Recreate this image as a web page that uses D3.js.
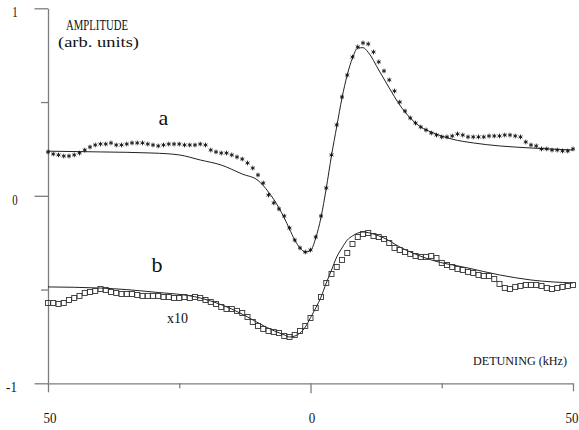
<!DOCTYPE html>
<html><head><meta charset="utf-8">
<script src="https://cdn.jsdelivr.net/npm/d3@7"></script>
<style>body{margin:0;background:#fff} svg{display:block}</style>
</head><body><svg id="c" width="579" height="430"></svg>
<script>
// ---- data ----
const detuning = [-50,-49,-48,-47,-46,-45,-44,-43,-42,-41,-40,-39,-38,-37,-36,-35,-34,-33,-32,-31,
  -30,-29,-28,-27,-26,-25,-24,-23,-22,-21,-20,-19,-18,-17,-16,-15,-14,-13,-12,-11,
  -10,-9,-8,-7,-6,-5,-4,-3,-2,-1,0,1,2,3,4,5,6,7,8,9,
  10,11,12,13,14,15,16,17,18,19,20,21,22,23,24,25,26,27,28,29,
  30,31,32,33,34,35,36,37,38,39,40,41,42,43,44,45,46,47,48,49,50];
const seriesA = [0.234,0.223,0.218,0.212,0.212,0.218,0.228,0.244,0.260,0.271,
  0.276,0.276,0.282,0.271,0.271,0.276,0.282,0.282,0.282,0.276,
  0.271,0.266,0.271,0.276,0.276,0.276,0.271,0.271,0.271,0.276,
  0.271,0.244,0.234,0.228,0.228,0.218,0.207,0.196,0.175,0.148,
  0.111,0.068,0.004,-0.038,-0.070,-0.108,-0.172,-0.236,-0.278,-0.300,
  -0.289,-0.220,-0.108,0.042,0.218,0.378,0.527,0.644,0.740,0.794,
  0.815,0.810,0.767,0.714,0.666,0.618,0.559,0.500,0.452,0.415,
  0.388,0.367,0.351,0.335,0.324,0.314,0.314,0.319,0.330,0.324,
  0.314,0.314,0.314,0.314,0.319,0.319,0.319,0.324,0.324,0.319,
  0.314,0.287,0.271,0.266,0.250,0.250,0.244,0.244,0.239,0.239,0.250];
const seriesB = [-0.572,-0.572,-0.577,-0.572,-0.556,-0.545,-0.534,-0.518,-0.513,-0.508,
  -0.497,-0.502,-0.513,-0.518,-0.524,-0.524,-0.524,-0.529,-0.534,-0.534,
  -0.534,-0.534,-0.540,-0.540,-0.545,-0.545,-0.540,-0.545,-0.540,-0.545,
  -0.556,-0.566,-0.577,-0.593,-0.604,-0.604,-0.614,-0.625,-0.646,-0.673,
  -0.694,-0.710,-0.721,-0.726,-0.732,-0.748,-0.753,-0.742,-0.721,-0.694,
  -0.652,-0.598,-0.540,-0.465,-0.417,-0.380,-0.342,-0.305,-0.257,-0.220,
  -0.204,-0.198,-0.214,-0.220,-0.230,-0.252,-0.278,-0.289,-0.300,-0.310,
  -0.321,-0.326,-0.326,-0.321,-0.332,-0.358,-0.369,-0.380,-0.390,-0.396,
  -0.406,-0.412,-0.422,-0.428,-0.428,-0.444,-0.470,-0.492,-0.497,-0.486,
  -0.481,-0.476,-0.476,-0.476,-0.481,-0.492,-0.497,-0.492,-0.486,-0.481,-0.476];
const fitAX = [-50,-40,-30,-25,-21,-17,-13,-10,-8,-6,-5,-4,-3,-2,-1,0,1,2,3,4,5,6,7,8,9,10,11,13,15,17,19,21,23,27,31,36,42,50];
const fitA  = [0.238,0.234,0.228,0.218,0.191,0.164,0.116,0.082,0.020,-0.065,-0.118,-0.177,-0.236,-0.278,-0.300,-0.292,-0.225,-0.115,0.040,0.215,0.370,0.522,0.645,0.735,0.788,0.790,0.765,0.671,0.575,0.484,0.415,0.367,0.340,0.302,0.282,0.266,0.255,0.244];
const fitBX = [-50,-40,-30,-21,-15,-12,-8.5,-5,-4,-3,-2,-1,0,1,2,3,4,5,6,7,8,10,12,14,17,23,30,36,42,50];
const fitB  = [-0.486,-0.492,-0.513,-0.545,-0.604,-0.646,-0.700,-0.742,-0.753,-0.748,-0.732,-0.700,-0.650,-0.598,-0.540,-0.465,-0.396,-0.326,-0.278,-0.236,-0.214,-0.193,-0.204,-0.225,-0.273,-0.342,-0.385,-0.422,-0.449,-0.465];
const xTickValues = [-50,-25,0,25,50];
const xTickLabels = ["50","","0","","50"];
const yTickValues = [-1,-0.5,0,0.5,1];
const yTickLabels = ["-1","","0","","1"];

// ---- drawing ----
const svg = d3.select("#c");
const x = d3.scaleLinear().domain([-50,50]).range([48,573]);
const y = d3.scaleLinear().domain([-1,1]).range([383.3,8.3]);
const axisColor = "#7d7d7d";

const gy = svg.append("g").attr("transform","translate(48,0)")
  .call(d3.axisLeft(y).tickValues(yTickValues).tickSizeOuter(0).tickFormat(""));
gy.selectAll(".tick line").attr("x2", d => (d % 1 === 0 ? -13.5 : -7));
const gx = svg.append("g").attr("transform","translate(0,383.3)")
  .call(d3.axisBottom(x).tickValues(xTickValues).tickSizeOuter(0).tickFormat(""));
const xLen = {"-50":9,"-25":5,"0":10,"25":5,"50":8};
gx.selectAll(".tick line").attr("y2", d => xLen[d]);
svg.selectAll(".domain, .tick line").attr("stroke", axisColor).attr("stroke-width", 1.3);

const serif = "'Liberation Serif', 'DejaVu Serif', serif";
function label(txt, px, py, size, width, anchor) {
  const t = svg.append("text").attr("x", px).attr("y", py)
    .attr("font-family", serif).attr("font-size", size)
    .attr("fill", "#111").attr("text-anchor", anchor || "start").text(txt);
  if (width) t.attr("textLength", width).attr("lengthAdjust", "spacingAndGlyphs");
  return t;
}
// tick labels
yTickValues.forEach((v,i) => {
  const s = yTickLabels[i]; if (!s) return;
  label(s, v < 0 ? 11.5 : 15, y(v) + 9, 15, s.length * 5.4, "middle");
});
xTickValues.forEach((v,i) => {
  const s = xTickLabels[i]; if (!s) return;
  label(s, x(v) + (v > 0 ? -1 : v < 0 ? 2 : 1.5), 422.5, 15, s.length * 6.5, "middle");
});

label("AMPLITUDE", 66, 29.5, 14, 62);
label("(arb. units)", 58, 46.5, 14, 81);
label("DETUNING (kHz)", 473, 365, 13, 94);
label("x10", 167, 322.5, 14, 21);
label("a", 158.5, 125, 22);
label("b", 151.5, 272, 22);

// fit lines
const line = d3.line().x(d => x(d[0])).y(d => y(d[1])).curve(d3.curveMonotoneX);
svg.append("path").datum(fitAX.map((v,i)=>[v,fitA[i]]))
  .attr("d", line).attr("fill","none").attr("stroke","#222").attr("stroke-width",1);
svg.append("path").datum(fitBX.map((v,i)=>[v,fitB[i]]))
  .attr("d", line).attr("fill","none").attr("stroke","#222").attr("stroke-width",1);

// star markers (series a)
const star = d3.symbol().type(d3.symbolAsterisk).size(15);
svg.append("g").selectAll("path").data(detuning.map((v,i)=>[v,seriesA[i]])).join("path")
  .attr("transform", d => `translate(${x(d[0])},${y(d[1])})`)
  .attr("d", star).attr("fill","none").attr("stroke","#111").attr("stroke-width",0.9);

// square markers (series b)
svg.append("g").selectAll("rect").data(detuning.map((v,i)=>[v,seriesB[i]])).join("rect")
  .attr("x", d => x(d[0]) - 2.5).attr("y", d => y(d[1]) - 2.5)
  .attr("width", 5).attr("height", 5)
  .attr("fill","none").attr("stroke","#333").attr("stroke-width",0.9);
</script>
</body></html>
